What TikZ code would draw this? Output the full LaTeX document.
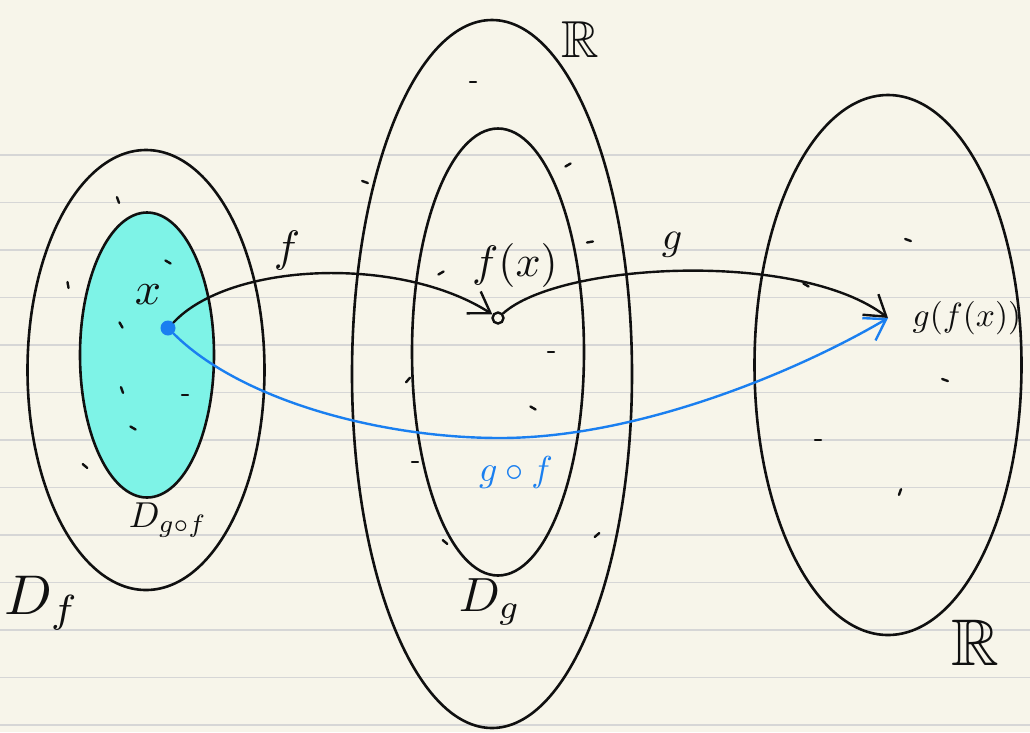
\documentclass[tikz,border=0pt]{standalone}
\usepackage{amssymb}
\usepackage{tikz}
\usetikzlibrary{arrows.meta}
\usetikzlibrary{calc}
\usetikzlibrary{shapes.geometric}
\definecolor{nbpaper}{HTML}{F7F5EA}
\definecolor{nbrule}{HTML}{D6D6D6}
\definecolor{nbink}{HTML}{101010}
\definecolor{nbblue}{HTML}{1A7FF0}
\definecolor{nbcyan}{HTML}{7EF3E7}
\tikzset{
  nbset/.style={
    draw=nbink, ellipse, inner sep=0pt, line width=2.6pt},
  nblabel/.style={inner sep=0pt, text=nbink, font=\normalsize},
  nbmap/.style={-{Straight Barb[length=20pt, width=26pt, line width=2.4pt]},
    draw=nbink, line width=2.4pt},
  nbtick/.style={draw=nbink, line width=2.4pt},
  every picture/.style={line cap=round},
}

\begin{document}
\begin{tikzpicture}[x=1pt, y=-1pt]

% Ruled notebook page.
\fill[nbpaper] (0,0) rectangle (1030,732);
\useasboundingbox (0,0) rectangle (1030,732);
\foreach \k in {0,...,12} {
  \draw[nbrule, line width=1.8pt] (0, 155 + 47.5*\k) -- (1030, 155 + 47.5*\k);
}

% Domain of f with the domain of g o f inside it.
\node[nbset, minimum width=237pt, minimum height=440pt] (Df) at (146, 370) {};
\node[nbset, fill=nbcyan, minimum width=134pt, minimum height=285pt]
  (Dgof) at (147, 355) {};

% The real line in the middle with the domain of g inside it.
\node[nbset, minimum width=280pt, minimum height=708pt] (Rmid) at (492, 374) {};
\node[nbset, minimum width=172pt, minimum height=447pt] (Dg) at (498, 352) {};

% The real line on the right.
\node[nbset, minimum width=267pt, minimum height=540pt] (Rright) at (888, 365) {};

% Stray pen marks (other elements of each set).
\foreach \px/\py/\a in {118/200/70, 68/285/80, 168/262/30, 121/325/60,
    122/390/70, 185/395/0, 133/428/30, 85/466/40, 473/82/0, 365/182/20,
    568/165/-30, 441/273/-30, 590/242/-10, 408/380/-50, 551/352/0,
    533/408/30, 415/462/0, 445/542/40, 597/535/-40, 908/240/20,
    806/285/30, 945/380/20, 818/440/0, 900/492/-70} {
  \draw[nbtick] ($(\px,\py) + (\a:-3)$) -- ($(\px,\py) + (\a:3)$);
}

% The three points.
\coordinate (px) at (168, 328);
\coordinate (pfx) at (498, 318);
\coordinate (pgfx) at (888, 318);
\node[circle, fill=nbblue, inner sep=0pt, minimum size=15pt] (xdot) at (px) {};
\node[circle, draw=nbink, line width=2.4pt, inner sep=0pt, minimum size=11pt]
  (fxdot) at (pfx) {};

% f, then g, and the composite g o f.
\draw[nbmap] (xdot.north east) .. controls (230, 262) and (400, 255) .. (fxdot);
\draw[nbmap] (fxdot) .. controls (560, 262) and (800, 250) .. (pgfx);
\draw[nbmap, draw=nbblue] (xdot) .. controls (240, 400) and (380, 438) .. (500, 438)
  .. controls (640, 438) and (800, 370) .. (pgfx);

% Labels (10pt text scaled up to the handwriting size).
\node[nblabel, scale=4.6] (lx) at (148, 295) {$x$};
\node[nblabel, scale=4.4] (lfx) at (515, 265) {$f(x)$};
\node[nblabel, scale=3.35, anchor=west] (lgfx) at (912, 318) {$g(f(x))$};
\node[nblabel, scale=4.4] (lf) at (287, 250) {$f$};
\node[nblabel, scale=4.0] (lg) at (672, 245) {$g$};
\node[nblabel, scale=3.6, text=nbblue] (lgof) at (516, 472) {$g\circ f$};
\node[nblabel, scale=3.6] (lDgof) at (168, 520) {$D_{g\circ f}$};
\node[nblabel, scale=5.6] (lDf) at (42, 603) {$D_f$};
\node[nblabel, scale=4.8] (lDg) at (490, 602) {$D_g$};
\node[nblabel, scale=5.2] (lRtop) at (580, 40) {$\mathbb{R}$};
\node[nblabel, scale=6.6] (lRbot) at (975, 643) {$\mathbb{R}$};

\end{tikzpicture}
\end{document}
